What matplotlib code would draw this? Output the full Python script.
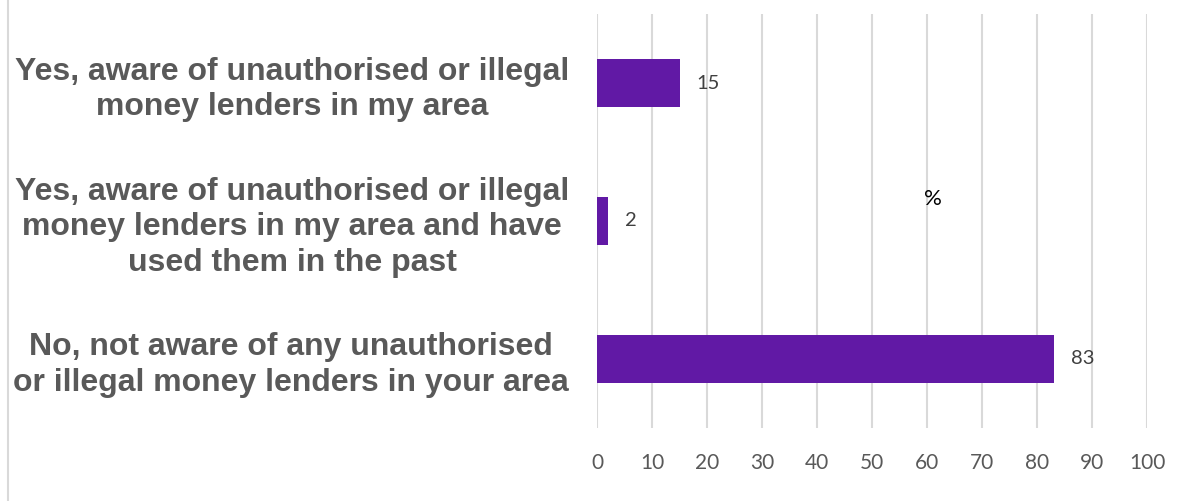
import matplotlib
matplotlib.use("Agg")
import matplotlib.pyplot as plt
from matplotlib.lines import Line2D

# Awareness of unauthorised / illegal money lenders (%)
categories = [
    "Yes, aware of unauthorised or illegal\nmoney lenders in my area",
    "Yes, aware of unauthorised or illegal\nmoney lenders in my area and have\nused them in the past",
    "No, not aware of any unauthorised\nor illegal money lenders in your area",
]
values = [15, 2, 83]
x_ticks = [0, 10, 20, 30, 40, 50, 60, 70, 80, 90, 100]

W, H = 1177, 501
fig = plt.figure(figsize=(W / 100, H / 100), dpi=100)
ax = fig.add_axes([597 / W, 1 - 428 / H, (1147 - 597) / W, (428 - 14) / H])

ypos = list(range(len(categories)))
ax.barh(ypos, values, height=0.35, color="#6119a5", zorder=3)

for y, v in zip(ypos, values):
    ax.text(v + 3.1, y, str(v), va="center", ha="left", fontsize=14.5,
            family="Lato", color="#404040")

ax.set_xlim(0, 100)
ax.set_ylim(len(categories) - 0.5, -0.5)
ax.set_xticks(x_ticks)
ax.set_xticklabels([str(t) for t in x_ticks], family="Lato", fontsize=15,
                   color="#595959")
ax.set_yticks(ypos)
ax.set_yticklabels(categories, fontsize=23, fontweight="bold",
                   family="Liberation Sans", color="#595959",
                   multialignment="center", linespacing=1.25)
ax.tick_params(axis="both", length=0)
ax.tick_params(axis="x", pad=18)
ax.tick_params(axis="y", pad=20)
ax.grid(axis="x", color="#d9d9d9", linewidth=1.5, zorder=0)
for s in ax.spines.values():
    s.set_visible(False)

# axis title sits inside the plot area
ax.text(61.1, 0.84, "%", ha="center", va="center", fontsize=16,
        family="Lato", color="black")

# thin chart-area border on the left
fig.add_artist(Line2D([8 / W, 8 / W], [0, 1], color="#d9d9d9", linewidth=1.5))

fig.savefig("out.png", dpi=100)
